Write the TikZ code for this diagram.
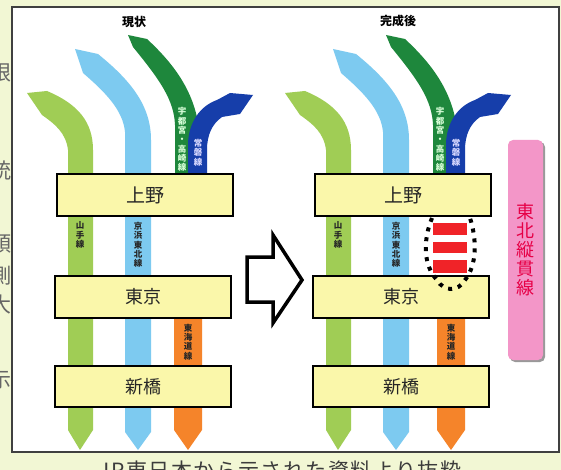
\documentclass[tikz,border=0pt]{standalone}
\usepackage{fontspec}
\newfontfamily\jp{Noto Sans CJK JP}
\newfontfamily\capfont[LetterSpace=7]{Noto Sans CJK JP}
\definecolor{bg}{RGB}{242,247,212}
\definecolor{lgreen}{RGB}{160,205,85}
\definecolor{lblue}{RGB}{125,202,240}
\definecolor{dgreen}{RGB}{30,135,60}
\definecolor{dblue}{RGB}{22,62,170}
\definecolor{orng}{RGB}{245,132,42}
\definecolor{boxy}{RGB}{250,247,170}
\definecolor{redbar}{RGB}{240,35,40}
\definecolor{pinkb}{RGB}{243,150,200}
\definecolor{redtxt}{RGB}{230,0,70}
\definecolor{captxt}{RGB}{60,60,60}
\tikzset{
  stn/.style={draw=black, line width=2.2pt, fill=boxy, minimum width=176pt, minimum height=42pt, inner sep=0pt,
    font=\jp\fontsize{18}{18}\selectfont, text=black!85},
  vlab/.style={inner sep=0pt, align=center, font=\jp\bfseries\fontsize{8.5}{9.3}\selectfont},
  title/.style={inner sep=0pt, font=\jp\bfseries\fontsize{12}{12}\selectfont},
  frag/.style={inner sep=0pt, text=black!60, font=\jp\fontsize{21}{21}\selectfont}
}
\begin{document}
\begin{tikzpicture}[x=1pt,y=-1pt]
\useasboundingbox (0,0) rectangle (561,470);
\clip (0,0) rectangle (561,470);
\fill[bg] (0,0) rectangle (561,470);
\draw[black!75, line width=1.5pt, fill=white] (12,7) rectangle (559,452);

\node[title] (tl) at (134,22) {現状};
\node[title] (tr) at (398,21) {完成後};

\foreach \dx/\s/\ox in {0/L/0, 258/R/5}{
\begin{scope}[shift={(\dx,0)}]
  % Yamanote
  \fill[lgreen] (27,93) -- (47,91) .. controls (78,104) and (93,122) .. (93,150) -- (93,430) -- (80,450) -- (68,430)
     -- (68,150) .. controls (66,133) and (55,124) .. (42,115) -- cycle;
  % Keihin-Tohoku
  \fill[lblue] (75,49) -- (98,54) .. controls (130,80) and (151,105) .. (151,140) -- (151,432) -- (138,450) -- (125,432)
     -- (125,132) .. controls (123,110) and (105,92) .. (83,73) -- cycle;
  % Utsunomiya / Takasaki
  \fill[dgreen] (128,35) -- (147,39) .. controls (175,65) and (198,95) .. (200,140) -- (200,185) -- (175,185)
     -- (175,125) .. controls (174,100) and (160,80) .. (133,47) -- cycle;
  % Joban
  \fill[dblue] (188,185) -- (188,143) .. controls (189,122) and (200,106) .. (217,100) -- (230,93) -- (253,95)
     -- (240,114) -- (222,117) .. controls (212,124) and (207,135) .. (207,150) -- (207,185) -- cycle;
  % Tokaido
  \fill[orng] (174+\ox,300) -- (174+\ox,430) -- (188+\ox,450) -- (202+\ox,430) -- (202+\ox,300) -- cycle;

  \node[vlab, text=green!15!white] (utsu\s) at (182,139.5) {宇\\都\\宮\\・\\高\\崎\\線};
  \node[vlab, text=blue!15!white] (joban\s) at (198,152.5) {常\\磐\\線};
  \node[vlab, text=black!85] (yama\s) at (80,235) {山\\手\\線};
  \node[vlab, text=black!85] (keihin\s) at (138,245) {京\\浜\\東\\北\\線};
  \node[vlab, text=black!85] (tokaido\s) at (188+\ox,342) {東\\海\\道\\線};

  \node[stn, font=\jp\fontsize{19}{19}\selectfont] (ueno\s) at (145,195) {上野};
  \node[stn] (tokyo\s) at (143,297) {東京};
  \node[stn, minimum height=41pt] (shimbashi\s) at (143,386.5) {新橋};
\end{scope}
}

% new section (right panel)
\fill[redbar] (433,223) rectangle (467,235);
\fill[redbar] (433,242) rectangle (467,253);
\fill[redbar] (433,260) rectangle (467,273);
\draw[black, line width=4pt, dash pattern=on 4pt off 6pt]
  (432,218) .. controls (423,240) and (423,265) .. (437,280) .. controls (444,292) and (458,292) .. (465,280)
  .. controls (477,265) and (477,240) .. (470,218);

% big hollow arrow
\draw[black, line width=3.5pt, fill=white, line join=miter]
  (247,257) -- (273,257) -- (273,235) -- (302,280) -- (273,323) -- (273,302) -- (247,302) -- cycle;

% Tohoku through line
\fill[black!40, rounded corners=5pt] (510,142) rectangle (545,362);
\node[fill=pinkb, rounded corners=5pt, minimum width=35pt, minimum height=220pt, inner sep=0pt, align=center,
  text=redtxt, font=\jp\fontsize{18}{19}\selectfont] (tohoku) at (525.5,250) {東\\北\\縦\\貫\\線};

% caption
\node[anchor=base, inner sep=0pt, text=captxt, font=\capfont\fontsize{21}{21}\selectfont] (cap) at (280,478)
  {JR東日本から示された資料より抜粋};

% clipped fragments at left edge
\node[frag] (f1) at (1,73) {限};
\node[frag] (f2) at (1,171) {統};
\node[frag] (f3) at (1,244) {頭};
\node[frag] (f4) at (1,276) {側};
\node[frag] (f5) at (1,305) {大};
\node[frag] (f6) at (1,380) {示};
\end{tikzpicture}
\end{document}
